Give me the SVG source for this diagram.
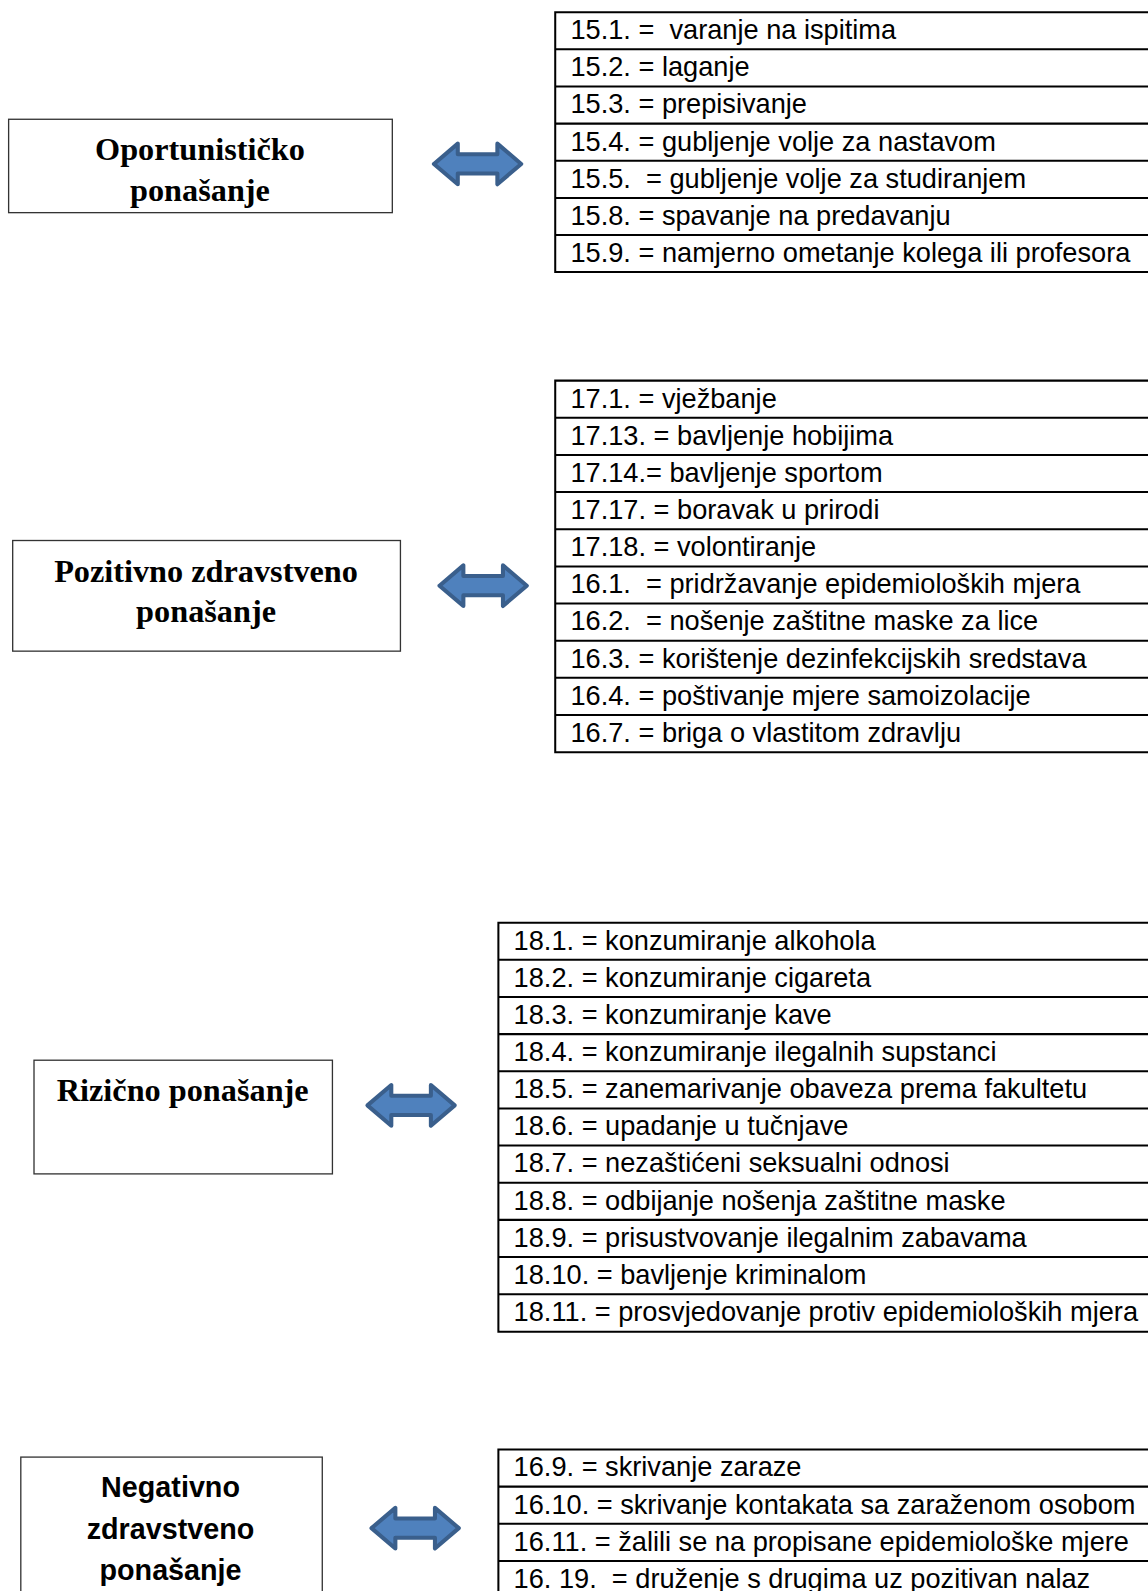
<svg xmlns="http://www.w3.org/2000/svg" width="1148" height="1591" viewBox="0 0 1148 1591">
<style>
.box{fill:#fff;stroke:#333;stroke-width:1.3}
.ttl{font-family:"Liberation Serif","Times New Roman",serif;font-weight:bold;font-size:31.8px;fill:#000;text-anchor:middle}
.ttl2{font-family:"Liberation Sans",Arial,sans-serif;font-weight:bold;font-size:28.3px;fill:#000;text-anchor:middle}
.row{font-family:"Liberation Sans",Arial,sans-serif;font-size:26.8px;fill:#000;white-space:pre}
.ln{stroke:#000;stroke-width:2;fill:none}
.arr{fill:#4F81BD;stroke:#3A5F8C;stroke-width:4;stroke-linejoin:round}
</style>
<defs>
<path id="dbl" class="arr" d="M-43,0 L-19.5,-20 L-19.5,-9.5 L19.5,-9.5 L19.5,-20 L43,0 L19.5,20 L19.5,9.5 L-19.5,9.5 L-19.5,20 Z"/>
</defs>
<rect width="1148" height="1591" fill="#fff"/>
<g transform="scale(1.01504)">

<g id="node-oportunisticko">
<rect class="box" x="8.5" y="117.5" width="378" height="92"/>
<text class="ttl" x="197" y="158">Oportunističko</text>
<text class="ttl" x="197" y="198">ponašanje</text>
</g>
<g id="node-pozitivno">
<rect class="box" x="12.5" y="532.5" width="382" height="109"/>
<text class="ttl" x="203" y="573">Pozitivno zdravstveno</text>
<text class="ttl" x="203" y="613">ponašanje</text>
</g>
<g id="node-rizicno">
<rect class="box" x="33.5" y="1044.5" width="294" height="112"/>
<text class="ttl" x="180" y="1085">Rizično ponašanje</text>
</g>
<g id="node-negativno">
<rect class="box" x="20.5" y="1435.5" width="297" height="170"/>
<text class="ttl2" x="168" y="1475">Negativno</text>
<text class="ttl2" x="168" y="1516">zdravstveno</text>
<text class="ttl2" x="168" y="1557">ponašanje</text>
</g>

<g id="connectors">
<use href="#dbl" x="470.5" y="161.5"/>
<use href="#dbl" x="476" y="577"/>
<use href="#dbl" x="405" y="1089"/>
<use href="#dbl" x="409" y="1505.5"/>
</g>

<g id="table-15">
<path class="ln" d="M547,12 V268 M546,12 H1148 M546,48.6 H1148 M546,85.2 H1148 M546,121.8 H1148 M546,158.4 H1148 M546,195 H1148 M546,231.6 H1148 M546,268 H1148"/>
<text class="row" x="562" y="38.5">15.1. =  varanje na ispitima</text>
<text class="row" x="562" y="75.1">15.2. = laganje</text>
<text class="row" x="562" y="111.7">15.3. = prepisivanje</text>
<text class="row" x="562" y="148.3">15.4. = gubljenje volje za nastavom</text>
<text class="row" x="562" y="184.9">15.5.  = gubljenje volje za studiranjem</text>
<text class="row" x="562" y="221.5">15.8. = spavanje na predavanju</text>
<text class="row" x="562" y="258.1">15.9. = namjerno ometanje kolega ili profesora</text>
</g>

<g id="table-17-16">
<path class="ln" d="M547,375 V741 M546,375 H1148 M546,411.6 H1148 M546,448.2 H1148 M546,484.8 H1148 M546,521.4 H1148 M546,558 H1148 M546,594.6 H1148 M546,631.2 H1148 M546,667.8 H1148 M546,704.4 H1148 M546,741 H1148"/>
<text class="row" x="562" y="401.5">17.1. = vježbanje</text>
<text class="row" x="562" y="438.1">17.13. = bavljenje hobijima</text>
<text class="row" x="562" y="474.7">17.14.= bavljenje sportom</text>
<text class="row" x="562" y="511.3">17.17. = boravak u prirodi</text>
<text class="row" x="562" y="547.9">17.18. = volontiranje</text>
<text class="row" x="562" y="584.5">16.1.  = pridržavanje epidemioloških mjera</text>
<text class="row" x="562" y="621.1">16.2.  = nošenje zaštitne maske za lice</text>
<text class="row" x="562" y="657.7">16.3. = korištenje dezinfekcijskih sredstava</text>
<text class="row" x="562" y="694.3">16.4. = poštivanje mjere samoizolacije</text>
<text class="row" x="562" y="730.9">16.7. = briga o vlastitom zdravlju</text>
</g>

<g id="table-18">
<path class="ln" d="M491,909 V1312 M490,909 H1148 M490,945.6 H1148 M490,982.2 H1148 M490,1018.8 H1148 M490,1055.4 H1148 M490,1092 H1148 M490,1128.6 H1148 M490,1165.2 H1148 M490,1201.8 H1148 M490,1238.4 H1148 M490,1275 H1148 M490,1312 H1148"/>
<text class="row" x="506" y="935.5">18.1. = konzumiranje alkohola</text>
<text class="row" x="506" y="972.1">18.2. = konzumiranje cigareta</text>
<text class="row" x="506" y="1008.7">18.3. = konzumiranje kave</text>
<text class="row" x="506" y="1045.3">18.4. = konzumiranje ilegalnih supstanci</text>
<text class="row" x="506" y="1081.9">18.5. = zanemarivanje obaveza prema fakultetu</text>
<text class="row" x="506" y="1118.5">18.6. = upadanje u tučnjave</text>
<text class="row" x="506" y="1155.1">18.7. = nezaštićeni seksualni odnosi</text>
<text class="row" x="506" y="1191.7">18.8. = odbijanje nošenja zaštitne maske</text>
<text class="row" x="506" y="1228.3">18.9. = prisustvovanje ilegalnim zabavama</text>
<text class="row" x="506" y="1264.9">18.10. = bavljenje kriminalom</text>
<text class="row" x="506" y="1301.5">18.11. = prosvjedovanje protiv epidemioloških mjera</text>
</g>

<g id="table-16-neg">
<path class="ln" d="M491,1428 V1591 M490,1428 H1148 M490,1464.6 H1148 M490,1501.2 H1148 M490,1537.8 H1148 M490,1574.4 H1148"/>
<text class="row" x="506" y="1454.5">16.9. = skrivanje zaraze</text>
<text class="row" x="506" y="1491.1">16.10. = skrivanje kontakata sa zaraženom osobom</text>
<text class="row" x="506" y="1527.7">16.11. = žalili se na propisane epidemiološke mjere</text>
<text class="row" x="506" y="1564.3">16. 19.  = druženje s drugima uz pozitivan nalaz</text>
</g>
</g>
</svg>
